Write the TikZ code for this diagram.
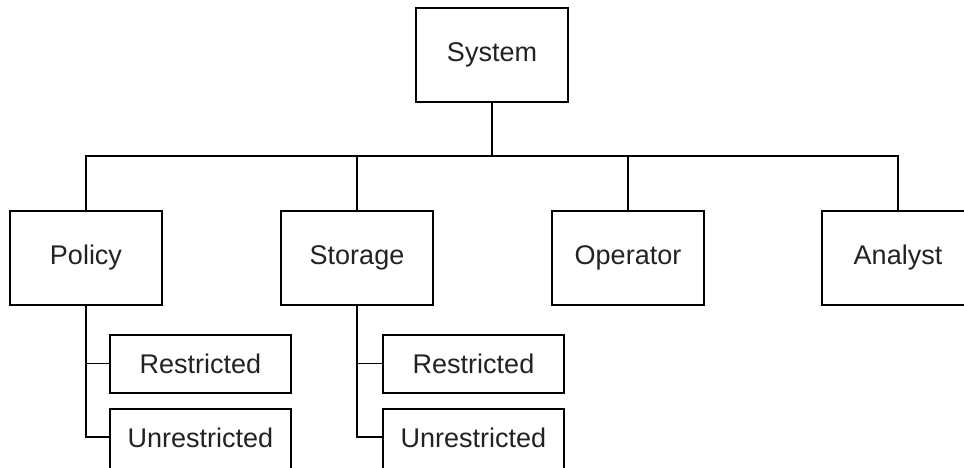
\documentclass[tikz,border=0pt]{standalone}
\usepackage{fontspec}
\setmainfont{Liberation Sans}
\definecolor{txt}{HTML}{222222}
\begin{document}
\begin{tikzpicture}[x=1pt,y=1pt,
  box/.style={draw=black, line width=2pt, rectangle, inner sep=0pt,
    minimum width=152pt, minimum height=94pt, text=txt,
    font=\fontsize{27}{32}\selectfont},
  sub/.style={draw=black, line width=2pt, rectangle, inner sep=0pt,
    minimum width=181pt, minimum height=58pt, text=txt,
    font=\fontsize{27}{32}\selectfont},
  link/.style={draw=black, line width=1.6pt}]
\useasboundingbox (0,0) rectangle (964,-467);
\clip (0,0) rectangle (964,-467);
\node[box] (sys) at (492,-55) {System};
\node[box] (pol) at (86,-258) {Policy};
\node[box] (sto) at (357,-258) {Storage};
\node[box] (ope) at (628,-258) {Operator};
\node[box] (ana) at (898,-258) {Analyst};
\node[sub] (pr) at (200.5,-363.5) {Restricted};
\node[sub, minimum height=64pt] (pu) at (200.5,-441) {\raisebox{7pt}{Unrestricted}};
\node[sub] (sr) at (473.5,-363.5) {Restricted};
\node[sub, minimum height=64pt] (su) at (473.5,-441) {\raisebox{7pt}{Unrestricted}};
\coordinate (bus) at (0,-156);
\draw[link] (sys.south) -- (sys.south |- bus);
\draw[link] (pol.north) |- (ana.north |- bus) -- (ana.north);
\draw[link] (sto.north) -- (sto.north |- bus);
\draw[link] (ope.north) -- (ope.north |- bus);
\draw[link] (pol.south) |- ([yshift=4pt]pu.west);
\draw[link] (pol.south) |- (pr.west);
\draw[link] (sto.south) |- (sr.west);
\draw[link] (sto.south) |- ([yshift=4pt]su.west);
\end{tikzpicture}
\end{document}
